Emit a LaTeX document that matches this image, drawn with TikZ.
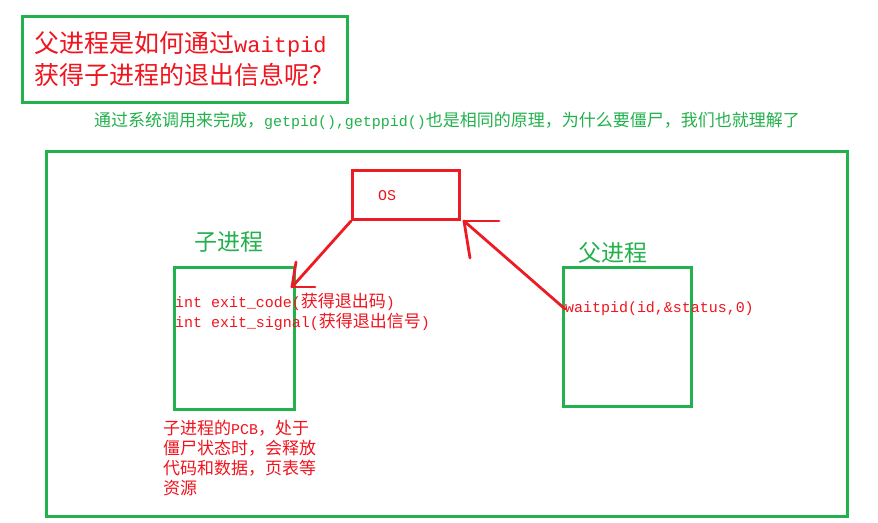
\documentclass[tikz,border=0pt]{standalone}
\usepackage{fontspec}
\newfontfamily\cjk{Noto Sans CJK SC}
\newfontfamily\mono[Scale=0.88]{Liberation Mono}
\newcommand{\m}[1]{{\mono #1}}
\definecolor{pgreen}{RGB}{34,177,76}
\definecolor{pred}{RGB}{237,28,36}
\definecolor{tred}{RGB}{240,20,30}
\begin{document}
\begin{tikzpicture}[x=1pt,y=-1pt,
  gbox/.style={draw=pgreen,line width=3pt,inner sep=0pt,anchor=north west},
  rbox/.style={draw=pred,line width=3pt,inner sep=0pt,anchor=north west},
  rline/.style={draw=pred,line width=2.8pt,line cap=round},
  rtxt/.style={inner sep=0pt,anchor=west,text=tred,font=\cjk\fontsize{17}{20}\selectfont,align=left},
  gtxt/.style={inner sep=0pt,text=pgreen,font=\cjk\fontsize{23}{26}\selectfont}]
\useasboundingbox (0,0) rectangle (878,522);
\fill[white] (0,0) rectangle (878,522);

% title
\node[gbox,minimum width=325pt,minimum height=86pt] (titlebox) at (21,15) {};
\node[inner sep=0pt,anchor=west,text=tred,align=left,font=\cjk\fontsize{25}{32}\selectfont] (title) at (34,59)
  {父进程是如何通过\m{waitpid}\\获得子进程的退出信息呢？};

% subtitle
\node[inner sep=0pt,anchor=west,text=pgreen,font=\cjk\fontsize{17}{20}\selectfont] (sub) at (94,121)
  {通过系统调用来完成，\m{getpid(),getppid()}也是相同的原理，为什么要僵尸，我们也就理解了};

% main frame
\node[gbox,minimum width=801pt,minimum height=365pt] (frame) at (45,150) {};

% OS
\node[rbox,minimum width=107pt,minimum height=49pt] (os) at (351,169) {};
\node[inner sep=0pt,text=tred,font=\fontsize{17}{20}\selectfont] (ostxt) at (387,196) {\m{OS}};

% child
\node[gtxt] (childlbl) at (229,242) {子进程};
\node[gbox,minimum width=120pt,minimum height=142pt] (child) at (173,266) {};
\node[rtxt] (code) at (175,302) {\m{int exit\_code(}获得退出码\m{)}};
\node[rtxt] (signal) at (175,322) {\m{int exit\_signal(}获得退出信号\m{)}};

% parent
\node[gtxt] (parentlbl) at (613,253) {父进程};
\node[gbox,minimum width=128pt,minimum height=139pt] (parent) at (562,266) {};
\node[rtxt] (wait) at (565,309) {\m{waitpid(id,\&status,0)}};

% note
\node[rtxt,anchor=north west] (note) at (163,420)
  {子进程的\m{PCB}，处于\\僵尸状态时，会释放\\代码和数据，页表等\\资源};

% arrow OS -> child
\coordinate (tip1) at (292,287);
\coordinate (h1a) at (296,262);
\coordinate (h1b) at (315,287);
\draw[rline] (os.south west) -- (tip1);
\draw[rline] (tip1) -- (h1a);
\draw[rline] (tip1) -- (h1b);

% arrow parent -> OS
\coordinate (tip2) at (464,221);
\coordinate (h2a) at (499,221);
\coordinate (h2b) at (470,258);
\draw[rline] (wait.west) -- (tip2);
\draw[rline] (tip2) -- (h2a);
\draw[rline] (tip2) -- (h2b);
\end{tikzpicture}
\end{document}
